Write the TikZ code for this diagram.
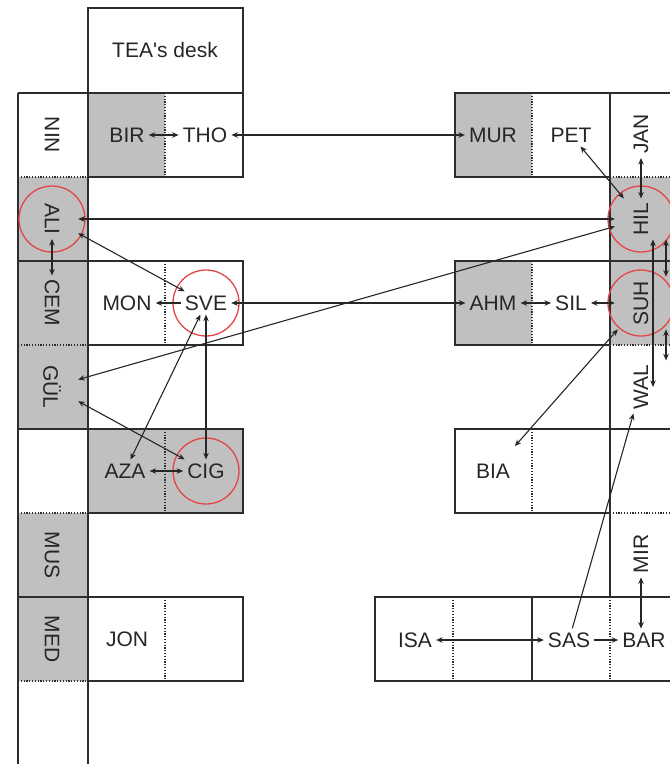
\documentclass[tikz,border=0pt]{standalone}
\usepackage{fontspec}
\setmainfont{Liberation Sans}
\usetikzlibrary{arrows.meta}

\definecolor{seatgray}{RGB}{192,192,192}
\definecolor{ringred}{RGB}{228,70,70}
\definecolor{wallc}{RGB}{45,45,45}

\tikzset{
  person/.style={font=\fontsize{21}{25}\selectfont, text=black!85, inner sep=4pt},
  vperson/.style={person, minimum width=52pt},
  ring/.style={circle, draw=ringred, line width=1.3pt, minimum size=66pt, inner sep=0pt},
  link/.style={<->, line width=1.1pt, draw=black!85},
  onelink/.style={->, line width=1.1pt, draw=black!85},
  wallline/.style={draw=wallc, line width=1.4pt},
  split/.style={draw=wallc, line width=1.2pt, dash pattern=on 1.2pt off 1.6pt},
}

\begin{document}
\begin{tikzpicture}[x=1pt, y=-1pt, >={Stealth[length=6.5pt,width=5.5pt]}]
\useasboundingbox (0,0) rectangle (670,764);

% ---------------------------
% grey seats
% ---------------------------
\fill[seatgray] (18,177) rectangle (88,429);
\fill[seatgray] (18,513) rectangle (88,681);
\fill[seatgray] (88,93) rectangle (165,177);
\fill[seatgray] (88,429) rectangle (243,513);
\fill[seatgray] (455,93) rectangle (532,177);
\fill[seatgray] (455,261) rectangle (532,345);
\fill[seatgray] (610,177) rectangle (670,345);

% ---------------------------
% left wall row and desks
% ---------------------------
\draw[wallline] (18,93) -- (18,764);
\draw[wallline] (88,8) -- (88,764);
\draw[wallline] (18,93) -- (243,93);
\draw[wallline] (88,8) rectangle (243,177);
\draw[wallline] (88,261) rectangle (243,345);
\draw[wallline] (88,429) rectangle (243,513);
\draw[wallline] (88,597) rectangle (243,681);
\foreach \y in {261,429,597}
  \draw[wallline] (18,\y) -- (88,\y);
\foreach \y in {177,345,513,681}
  \draw[split] (18,\y) -- (88,\y);
\foreach \y in {93,261,429,597}
  \draw[split] (165,\y) -- (165,\y+84);

% ---------------------------
% right desks and right wall row
% ---------------------------
\draw[wallline] (455,93) rectangle (610,177);
\draw[wallline] (455,261) rectangle (610,345);
\draw[wallline] (455,429) rectangle (610,513);
\draw[wallline] (670,597) -- (375,597) -- (375,681) -- (670,681);
\draw[wallline] (532,597) -- (532,681);
\draw[wallline] (610,93) -- (610,597);
\foreach \y in {93,261,429}
  \draw[wallline] (610,\y) -- (670,\y);
\foreach \y in {177,345,513}
  \draw[split] (610,\y) -- (670,\y);
\foreach \y in {93,261,429}
  \draw[split] (532,\y) -- (532,\y+84);
\draw[split] (453,597) -- (453,681);
\draw[split] (610,597) -- (610,681);

% ---------------------------
% names
% ---------------------------
\node[person] (desk) at (165,50) {TEA\textquotesingle s desk};

\node[vperson] (nin) at (52,135) {\rotatebox{-90}{NIN}};
\node[vperson] (ali) at (52,219) {\rotatebox{-90}{ALI}};
\node[vperson] (cem) at (52,303) {\rotatebox{-90}{CEM}};
\node[vperson] (gul) at (52,387) {\rotatebox{-90}{GÜL}};
\node[vperson] (mus) at (52,555) {\rotatebox{-90}{MUS}};
\node[vperson] (med) at (52,639) {\rotatebox{-90}{MED}};

\node[person] (bir) at (127,135) {BIR};
\node[person] (tho) at (205,135) {THO};
\node[person] (mon) at (127,303) {MON};
\node[person] (sve) at (206,303) {SVE};
\node[person] (aza) at (125,471) {AZA};
\node[person] (cig) at (206,471) {CIG};
\node[person] (jon) at (127,639) {JON};

\node[person] (mur) at (493,135) {MUR};
\node[person] (pet) at (571,135) {PET};
\node[person] (ahm) at (493,303) {AHM};
\node[person] (sil) at (571,303) {SIL};
\node[person] (bia) at (493,471) {BIA};
\node[person] (isa) at (415,640) {ISA};
\node[person] (sas) at (569,640) {SAS};

\node[vperson] (jan) at (641,134) {\rotatebox{90}{JAN}};
\node[vperson] (hil) at (641,219) {\rotatebox{90}{HIL}};
\node[vperson] (suh) at (641,303) {\rotatebox{90}{SUH}};
\node[vperson] (wal) at (641,387) {\rotatebox{90}{WAL}};
\node[vperson] (mir) at (641,554) {\rotatebox{90}{MIR}};
\node[person] (bar) at (644,640) {BAR};

\foreach \p in {ali,sve,cig,hil,suh}
  \node[ring] at (\p) {};

% ---------------------------
% links
% ---------------------------
\draw[link] (bir) -- (tho);
\draw[link] (tho) -- (mur);
\draw[link] (ali) -- (hil);
\draw[link] (ali) -- (sve);
\draw[link] (ali) -- (cem);
\draw[onelink] (sve) -- (mon);
\draw[link] (sve) -- (ahm);
\draw[link] (ahm) -- (sil);
\draw[link] (sil) -- (suh);
\draw[link] (sve) -- (aza);
\draw[link] (sve) -- (cig);
\draw[link] (aza) -- (cig);
\draw[link] (gul) -- (cig);
\draw[link] (gul) -- (hil);
\draw[link] (pet) -- (hil);
\draw[link] (jan) -- (hil);
\draw[link] ([xshift=12pt]hil.south) -- ([xshift=12pt]hil.south |- wal.east);
\draw[link] ([xshift=25pt]hil.south) -- ([xshift=25pt]suh.north);
\draw[link] ([xshift=25pt]suh.south) -- ([xshift=25pt]wal.north);
\draw[link, shorten >=18pt] (suh) -- (bia);
\draw[onelink] (sas) -- (wal);
\draw[link] (isa) -- (sas);
\draw[onelink] (sas) -- (bar);
\draw[link] (mir) -- (mir |- bar.north);

\end{tikzpicture}
\end{document}
